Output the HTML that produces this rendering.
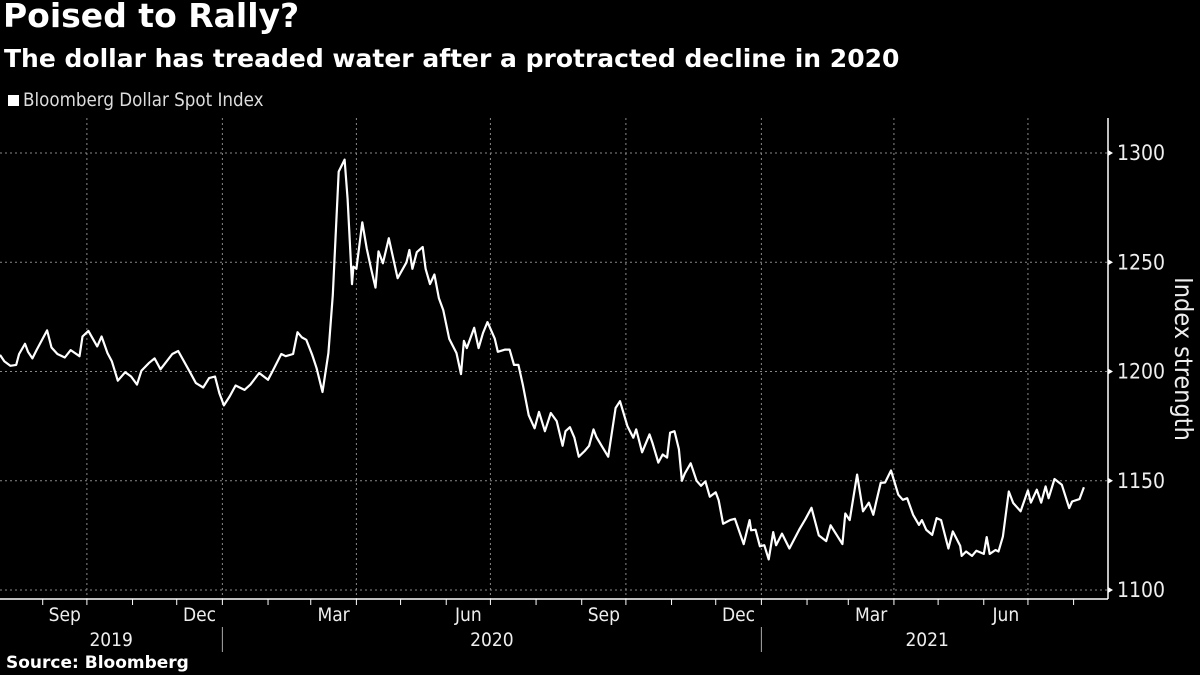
<!DOCTYPE html>
<html><head><meta charset="utf-8"><style>
html,body{margin:0;padding:0;background:#000;}
body{width:1200px;height:675px;overflow:hidden;font-family:"Liberation Sans",sans-serif;color:#fff;position:relative;}
.t{position:absolute;white-space:nowrap;}
</style></head><body>
<div class="t" style="left:3px;top:-4px;font-size:33px;font-weight:bold;font-family:'DejaVu Sans',sans-serif;">Poised to Rally?</div>
<div class="t" style="left:4px;top:44px;font-size:25px;font-weight:bold;font-family:'DejaVu Sans',sans-serif;">The dollar has treaded water after a protracted decline in 2020</div>
<div class="t" style="left:8px;top:90px;font-size:18.6px;color:#ddd;font-family:'DejaVu Sans Condensed','DejaVu Sans',sans-serif;"><span style="display:inline-block;width:11px;height:11px;background:#fff;margin-right:4px;"></span>Bloomberg Dollar Spot Index</div>
<div class="t" style="left:6px;top:653px;font-size:17px;font-weight:bold;font-family:'DejaVu Sans',sans-serif;">Source: Bloomberg</div>
<svg id="chart" width="1200" height="675" style="position:absolute;left:0;top:0;"></svg>
<script>
const days=[0,3,7,11,13,17,19,22,25,32,35,39,44,48,54,56,60,66,69,73,76,80,85,89,93,96,101,105,109,117,121,129,133,138,142,146,149,152,156,160,166,170,176,182,185,191,194,199,202,205,208,212,215,219,223,226,230,234,236,239,240,242,246,249,252,255,257,260,264,270,276,278,280,283,287,289,292,295,298,301,305,310,313,315,317,322,325,328,331,336,338,343,346,349,352,355,359,363,366,370,374,378,382,384,387,390,393,397,400,403,405,409,413,418,421,426,430,432,436,441,443,447,450,453,455,458,461,463,465,469,473,476,479,482,486,488,491,496,499,505,509,510,513,516,519,522,525,527,531,536,543,547,551,556,561,564,572,574,577,582,586,590,593,595,598,601,605,610,613,616,620,624,626,629,633,636,639,644,647,652,653,656,660,663,668,670,672,676,678,681,685,688,693,698,700,704,707,710,712,716,721,726,728,733,736];
const values=[1207.6,1204.6,1202.6,1203,1208,1212.7,1209,1206,1210,1218.8,1211,1208,1206.4,1209.8,1207,1216,1218.6,1211.5,1216,1208.4,1204.6,1195.8,1199.7,1197.7,1194,1200.3,1203.8,1206,1201,1208,1209.4,1199.7,1194.7,1192.7,1197,1197.7,1190,1184.5,1188.6,1193.6,1191.6,1194,1199.3,1196.2,1200,1208,1207,1208,1218,1215.6,1214.5,1207.6,1201.5,1190.6,1208.4,1235,1291.5,1297,1279,1240,1248,1247,1268.3,1256.4,1247,1238.4,1255,1249.5,1261,1242.7,1250,1255.6,1247,1254.6,1257,1247,1240,1244.4,1233.5,1228,1215,1208.4,1198.8,1214,1210.7,1220,1210.7,1217.6,1222.6,1215,1209,1210,1210,1203,1203,1194,1180,1174,1181.5,1172.7,1181,1177.3,1166,1172.7,1174.5,1169.7,1161,1163.6,1166,1173.5,1170,1165.5,1161,1183.3,1186.4,1175,1169.7,1173.5,1163,1171.2,1167.4,1158.3,1162,1160.6,1172,1172.7,1164.4,1150,1153.3,1158,1150,1147.7,1149.7,1142.7,1144.7,1141,1130.3,1132.1,1132.6,1121,1132,1127.3,1127.6,1120,1120.5,1114,1126.5,1120.5,1125.8,1119,1128,1132.6,1137.6,1125,1122.4,1129.6,1121,1135,1132,1152.8,1136,1140,1134.4,1140.5,1149,1149.2,1154.7,1143.6,1141.3,1142,1134.4,1129.8,1132,1127.5,1125.2,1132.9,1132,1119,1126.8,1120.2,1115.6,1117.6,1115.6,1118,1116.5,1124.2,1116.5,1118.3,1117.6,1124.5,1145.1,1139.8,1136,1145.6,1140,1145.9,1140,1147.4,1142,1150.8,1148.2,1137.5,1140.5,1141.6,1147];
const yTicks=[1100,1150,1200,1250,1300];
const monthLabels=["Sep","Dec","Mar","Jun","Sep","Dec","Mar","Jun"];
const yearLabels=["2019","2020","2021"];

const NS="http://www.w3.org/2000/svg";
const svg=document.getElementById('chart');
const X0=0, PXD=1.4727, AX=1108, AY=599, TOP=118;
const FONT="DejaVu Sans Condensed, DejaVu Sans, sans-serif";
const startMs=Date.UTC(2019,7,3);
function dayOf(y,m,d){return (Date.UTC(y,m,d)-startMs)/86400000;}
function xs(d){return X0+d*PXD;}
function ys(v){return 590-(v-1100)*2.185;}
function mk(tag,attrs,parent){const e=document.createElementNS(NS,tag);for(const k in attrs)e.setAttribute(k,attrs[k]);(parent||svg).appendChild(e);return e;}

yTicks.forEach(v=>{
  const g=mk('line',{x1:0,x2:AX,y1:ys(v),y2:ys(v),stroke:'#888','stroke-width':1,'stroke-dasharray':'2,3'});
  
  
  const tr=mk('path',{d:`M${AX},${ys(v)-3} L${AX+5},${ys(v)} L${AX},${ys(v)+3}Z`,fill:'#fff'});
  
  
  const t=mk('text',{x:AX+9,y:ys(v)+7,fill:'#eee','font-size':21,'font-family':FONT});
  t.textContent=v;
  
  
});
const months=[];
for(let y=2019;y<=2021;y++)for(let m=0;m<12;m++){const d=dayOf(y,m,1);if(d>=0&&d<=745)months.push({y,m,d});}
months.forEach(o=>{
  const x=xs(o.d);
  const tk=mk('line',{x1:x,x2:x,y1:AY,y2:AY+6,stroke:'#fff','stroke-width':1});
  
  
  if(o.m%3===0){
    const g=mk('line',{x1:x,x2:x,y1:TOP,y2:AY,stroke:'#888','stroke-width':1,'stroke-dasharray':'2,3'});
    
    
  }
});
const labMonths=[[2019,8],[2019,11],[2020,2],[2020,5],[2020,8],[2020,11],[2021,2],[2021,5]];
labMonths.forEach((p,i)=>{
  const mid=(dayOf(p[0],p[1],1)+dayOf(p[0],p[1]+1,1))/2;
  const t=mk('text',{x:xs(mid),y:621,fill:'#eee','font-size':19,'text-anchor':'middle','font-family':FONT});
  t.textContent=monthLabels[i];
  
  
});
const yb=[0,dayOf(2020,0,1),dayOf(2021,0,1),(1093-X0)/PXD];
yearLabels.forEach((yl,i)=>{
  const t=mk('text',{x:xs((yb[i]+yb[i+1])/2),y:646,fill:'#eee','font-size':19,'text-anchor':'middle','font-family':FONT});
  t.textContent=yl;
  
  
});
[1,2].forEach(i=>{
  const l=mk('line',{x1:xs(yb[i]),x2:xs(yb[i]),y1:627,y2:652,stroke:'#aaa','stroke-width':1});
  
  
});
const ax=mk('line',{x1:0,x2:AX,y1:AY,y2:AY,stroke:'#fff','stroke-width':1.5});


const ay=mk('line',{x1:AX,x2:AX,y1:TOP,y2:AY,stroke:'#fff','stroke-width':1.5});


const yt=mk('text',{x:0,y:0,fill:'#eee','font-size':25,'text-anchor':'middle',transform:'translate(1175,359) rotate(90)','font-family':FONT});
yt.textContent='Index strength';


const pts=days.map((d,i)=>xs(d).toFixed(1)+','+ys(values[i]).toFixed(1)).join(' ');
const pl=mk('polyline',{points:pts,fill:'none',stroke:'#fff','stroke-width':2.2,'stroke-linejoin':'round'});


</script>
</body></html>
